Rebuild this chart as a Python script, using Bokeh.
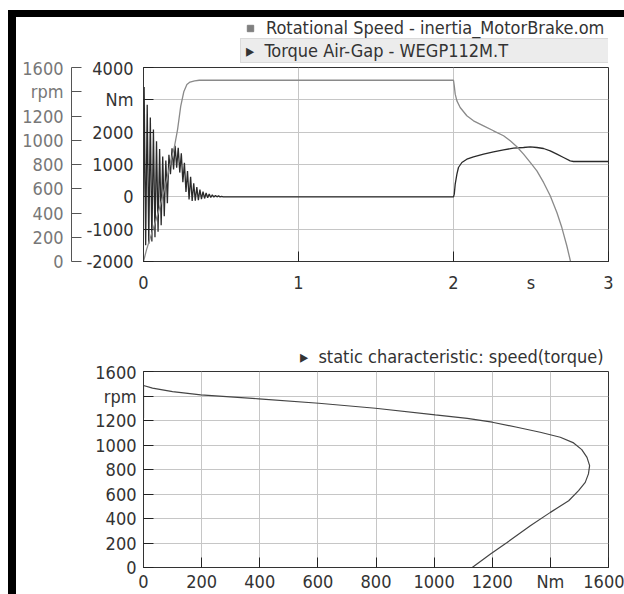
import math
from bokeh.plotting import figure
from bokeh.models import Range1d, LinearAxis, FixedTicker, Legend, LegendItem
from bokeh.layouts import column
from bokeh.embed import file_html
from bokeh.resources import INLINE

FONT = "DejaVu Sans Condensed"
FS = "18px"

# ---------------- top chart data ----------------
speed_t = [0.0, 0.02, 0.05, 0.08, 0.11, 0.14, 0.17, 0.20, 0.22, 0.24, 0.26, 0.28, 0.30, 0.33, 0.36, 0.40,
           2.0, 2.005, 2.011, 2.022, 2.043, 2.086, 2.129, 2.194, 2.258, 2.323, 2.366, 2.409, 2.452,
           2.495, 2.538, 2.581, 2.624, 2.667, 2.699, 2.731, 2.755]
speed_rpm = [0, 100, 220, 340, 470, 620, 790, 950, 1090, 1280, 1400, 1460, 1480, 1490, 1495, 1495,
             1495, 1449, 1380, 1325, 1270, 1202, 1160, 1119, 1078, 1037, 995, 946, 886,
             817, 748, 652, 542, 404, 280, 130, 0]

torque_t = [0.000, 0.004, 0.014, 0.024, 0.034, 0.044, 0.054, 0.064, 0.074, 0.084, 0.094,
            0.104, 0.114, 0.124, 0.134, 0.144, 0.154, 0.164, 0.174, 0.184, 0.194,
            0.204, 0.214, 0.224, 0.234, 0.244, 0.254, 0.264, 0.274, 0.284, 0.294,
            0.304, 0.314, 0.324, 0.334, 0.344, 0.354, 0.364, 0.374, 0.384, 0.394,
            0.404, 0.414, 0.424, 0.434, 0.444, 0.454, 0.464, 0.474, 0.484, 0.494,
            0.504, 0.514, 0.530,
            2.000, 2.005, 2.011, 2.022, 2.032, 2.054, 2.086, 2.129, 2.194, 2.258, 2.323,
            2.387, 2.452, 2.495, 2.538, 2.581, 2.624, 2.667, 2.710, 2.753, 2.774, 3.000]
torque_nm = [0, 3400, -1500, 2850, -1450, 2450, -1380, 2080, -1250, 1720, -1080,
             1480, -880, 1250, -600, 1120, -200, 1300, 700, 1500, 850,
             1580, 900, 1520, 750, 1350, 450, 1050, 150, 800, -80,
             620, -130, 420, -120, 300, -100, 220, -70, 160, -50,
             120, -30, 90, -20, 60, -10, 40, 0, 30, 0,
             15, 0, 0,
             0, 82, 392, 701, 907, 1062, 1165, 1237, 1320, 1392, 1454,
             1505, 1526, 1547, 1526, 1495, 1423, 1320, 1217, 1113, 1093, 1093]

time_ticks = [0, 1, 2, 3]
time_label_ticks = [0, 1, 2, 2.5, 3]
time_labels = {2.5: "s"}
nm_ticks = [-2000, -1000, 0, 1000, 2000, 3000, 4000]
nm_labels = {-2000: "-2000", -1000: "-1000", 3000: "Nm"}
rpm_ticks = [0, 200, 400, 600, 800, 1000, 1200, 1400, 1600]
rpm_labels = {1400: "rpm"}

speed_label = "Rotational Speed - inertia_MotorBrake.om"
torque_label = "\u25b8  Torque Air-Gap - WEGP112M.T"

# ---------------- bottom chart data ----------------
static_torque = [0, 0, 31, 100, 197, 397, 603, 798, 1004, 1114, 1200, 1285, 1365, 1434, 1480,
                 1508, 1526, 1535, 1531, 1520, 1497, 1463, 1400, 1331, 1251, 1194, 1131]
static_speed = [1218, 1486, 1464, 1436, 1409, 1377, 1341, 1300, 1246, 1218, 1186, 1145, 1104, 1063, 1017,
                962, 899, 832, 764, 695, 627, 545, 450, 341, 204, 110, 0]
torque_ticks = [0, 200, 400, 600, 800, 1000, 1200, 1400, 1600]
torque_labels = {1400: "Nm"}
static_label = "\u25b8  static characteristic: speed(torque)"

NAN = [float("nan")]

GRID = "#c6c6c6"
FRAME = "#333333"


def style_axis(ax, standoff, color="#333333", tick_color="#222222"):
    ax.major_tick_in = 10
    ax.major_tick_out = 0
    ax.minor_tick_in = 0
    ax.minor_tick_out = 0
    ax.major_label_standoff = standoff
    ax.major_label_text_font = FONT
    ax.major_label_text_font_size = FS
    ax.major_label_text_color = color
    ax.major_tick_line_color = tick_color
    ax.minor_tick_line_color = tick_color
    ax.axis_line_color = FRAME


def legend_box(items, loc, **kw):
    opts = dict(location=loc, orientation="vertical",
                border_line_color=None, background_fill_alpha=0,
                label_text_font=FONT, label_text_font_size=FS, label_text_color="#333333",
                glyph_width=20, label_standoff=6, padding=0, margin=0, spacing=0)
    opts.update(kw)
    return Legend(items=items, **opts)


def legend_strip(height):
    f = figure(width=608, height=height, x_range=Range1d(0, 1), y_range=Range1d(0, 1),
               output_backend="svg", toolbar_location=None,
               x_axis_location=None, y_axis_location=None,
               min_border_left=0, min_border_right=0, min_border_top=0, min_border_bottom=0)
    f.outline_line_color = None
    f.grid.visible = False
    f.background_fill_color = "white"
    f.border_fill_color = "white"
    return f


# ---------------- top legend strip ----------------
L1 = legend_strip(50)
sq = L1.scatter(NAN, NAN, marker="square", size=8, fill_color="#808080", line_color="#808080")
hidden1 = L1.scatter(NAN, NAN, marker="triangle", size=1, fill_alpha=0, line_alpha=0)
leg_torque = legend_box([LegendItem(label=torque_label, renderers=[hidden1])], (97, 4),
                        padding=1, label_height=20, glyph_height=20, glyph_width=4,
                        label_standoff=0, label_width=361,
                        background_fill_color="#ececec", background_fill_alpha=1,
                        border_line_color="#c8c8c8")
leg_speed = legend_box([LegendItem(label=speed_label, renderers=[sq])], (97, 29),
                       label_height=16, glyph_height=16)
L1.add_layout(leg_torque, "center")
L1.add_layout(leg_speed, "center")

# ---------------- top figure ----------------
p1 = figure(width=608, height=243, x_range=Range1d(0, 3), y_range=Range1d(-2000, 4000),
            output_backend="svg", toolbar_location=None,
            min_border_left=127, min_border_right=16, min_border_top=10, min_border_bottom=39,
            styles={"margin-top": "-10px"})
p1.extra_y_ranges = {"rpm": Range1d(0, 1600)}
p1.outline_line_color = FRAME
p1.background_fill_color = "white"
p1.border_fill_alpha = 0

xa = p1.xaxis[0]
xa.ticker = FixedTicker(ticks=time_label_ticks, minor_ticks=time_ticks)
xa.major_label_overrides = time_labels
style_axis(xa, 10)
xa.major_tick_in = 0
xa.minor_tick_in = 10

ya = p1.yaxis[0]
ya.ticker = FixedTicker(ticks=nm_ticks)
ya.major_label_overrides = nm_labels
style_axis(ya, 10)
ya.axis_label = " "
ya.axis_label_standoff = 0
ya.axis_label_text_font_size = "8px"

rpm_axis = LinearAxis(y_range_name="rpm", ticker=FixedTicker(ticks=rpm_ticks),
                      major_label_overrides=rpm_labels)
style_axis(rpm_axis, 8, color="#777777", tick_color="#555555")
rpm_axis.axis_line_color = "#555555"
p1.add_layout(rpm_axis, "left")

p1.xgrid.ticker = FixedTicker(ticks=time_ticks)
p1.ygrid.ticker = FixedTicker(ticks=nm_ticks)
p1.xgrid.grid_line_color = GRID
p1.ygrid.grid_line_color = GRID

p1.line(torque_t, torque_nm, line_color="#2a2a2a", line_width=1.3)
p1.line(speed_t, speed_rpm, y_range_name="rpm", line_color="#8a8a8a", line_width=1.3)

# ---------------- bottom legend strip ----------------
L2 = legend_strip(71)
hidden2 = L2.scatter(NAN, NAN, marker="triangle", size=1, fill_alpha=0, line_alpha=0)
leg_static = legend_box([LegendItem(label=static_label, renderers=[hidden2])], (153, 4),
                        label_height=22, glyph_height=22, glyph_width=4, label_standoff=0)
L2.add_layout(leg_static, "center")

# ---------------- bottom figure ----------------
p2 = figure(width=608, height=234, x_range=Range1d(0, 1600), y_range=Range1d(0, 1600),
            output_backend="svg", toolbar_location=None,
            min_border_left=126, min_border_right=16, min_border_top=10, min_border_bottom=28,
            styles={"margin-top": "-10px"})
p2.outline_line_color = FRAME
p2.background_fill_color = "white"
p2.border_fill_alpha = 0

xb = p2.xaxis[0]
xb.ticker = FixedTicker(ticks=torque_ticks)
xb.major_label_overrides = torque_labels
style_axis(xb, 3)

yb = p2.yaxis[0]
yb.ticker = FixedTicker(ticks=rpm_ticks)
yb.major_label_overrides = rpm_labels
style_axis(yb, 7)

p2.xgrid.ticker = FixedTicker(ticks=torque_ticks)
p2.ygrid.ticker = FixedTicker(ticks=rpm_ticks)
p2.xgrid.grid_line_color = GRID
p2.ygrid.grid_line_color = GRID

p2.line(static_torque, static_speed, line_color="#444444", line_width=1.2)

layout = column(L1, p1, L2, p2, spacing=0,
                styles={"border-left": "8px solid black", "border-top": "7px solid black",
                        "margin-left": "8px", "margin-top": "10px",
                        "margin-bottom": "-12px"})

open("out.html", "w").write(file_html(layout, INLINE))
